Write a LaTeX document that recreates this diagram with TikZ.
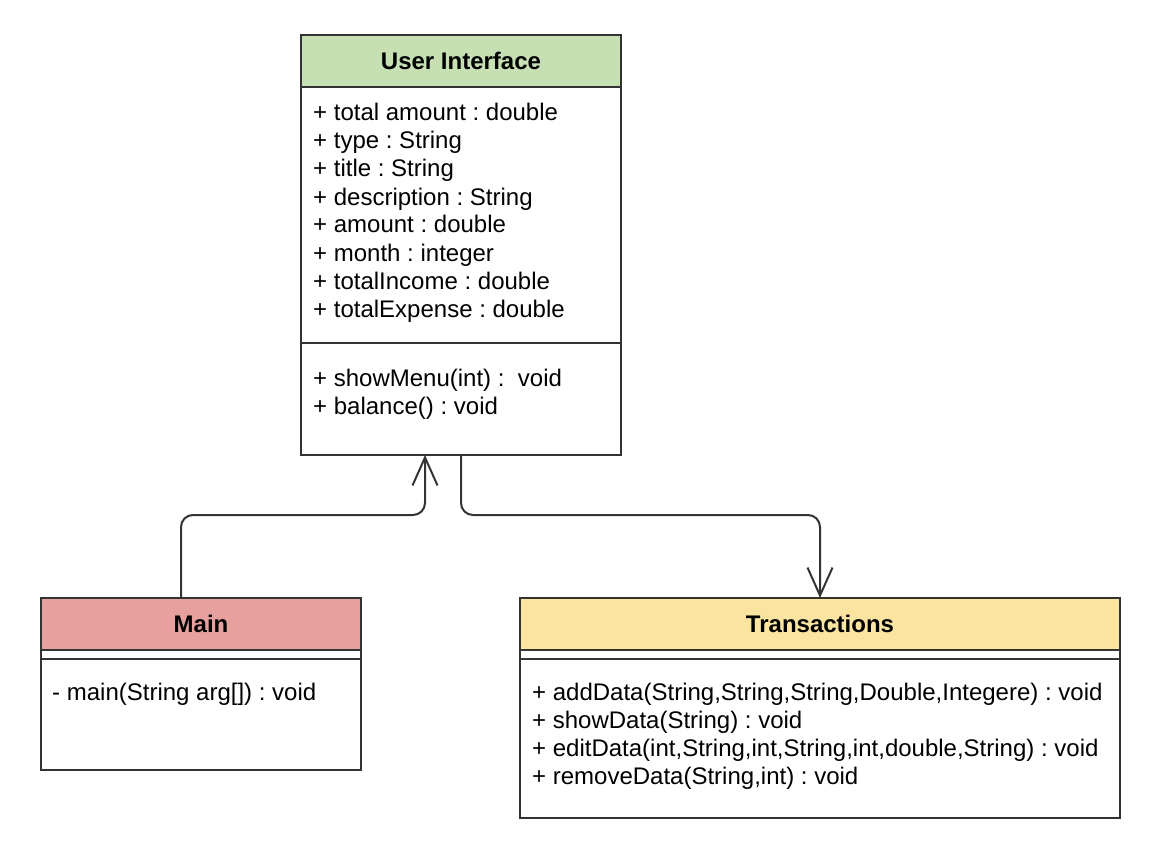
\documentclass[tikz,border=0pt]{standalone}
\usepackage{fontspec}
\setmainfont{Liberation Sans}
\usetikzlibrary{arrows.meta,calc}
\definecolor{lc}{HTML}{333333}
\definecolor{hgreen}{HTML}{C6E0B4}
\definecolor{hred}{HTML}{E6A19E}
\definecolor{hyellow}{HTML}{FAE4A0}
\frenchspacing
\begin{document}
\begin{tikzpicture}[x=1pt,y=-1pt,
  box/.style={draw=lc, line width=2pt, fill=white, anchor=north west, inner sep=0pt, outer sep=0pt},
  hdr/.style={box, minimum height=52pt},
  txt/.style={anchor=base west, inner sep=0pt, font=\fontsize{24}{28}\selectfont},
  ttl/.style={inner sep=0pt, font=\fontsize{24}{28}\selectfont\bfseries},
  sep/.style={draw=lc, line width=2pt},
  conn/.style={draw=lc, line width=2pt, rounded corners=12pt, -{Straight Barb[length=28pt,width=25pt]}}
]
\useasboundingbox (0,0) rectangle (1164,861);

% User Interface
\node[box, minimum width=320pt, minimum height=420pt] (ui) at (301,35) {};
\node[hdr, fill=hgreen, minimum width=320pt] (uih) at (301,35) {};
\node[ttl] (uit) at (uih.center) {User Interface};
\draw[sep] (301,343) -- (621,343);
\foreach \t [count=\i] in {{+ total amount : double},{+ type : String},{+ title : String},{+ description : String},{+ amount : double},{+ month : integer},{+ totalIncome : double},{+ totalExpense : double}}
  \node[txt] (uia\i) at (313,{121+28*(\i-1)}) {\t};
\node[txt] (uim1) at (313,386) {+ showMenu(int) :\ \ void};
\node[txt] (uim2) at (313,414) {+ balance() : void};

% Main
\node[box, minimum width=320pt, minimum height=172pt] (main) at (41,598) {};
\node[hdr, fill=hred, minimum width=320pt] (mainh) at (41,598) {};
\node[ttl] (maint) at (mainh.center) {Main};
\draw[sep] (41,659) -- (361,659);
\node[txt] (mainm1) at (52,700) {- main(String arg[]) : void};

% Transactions
\node[box, minimum width=600pt, minimum height=220pt] (tr) at (520,598) {};
\node[hdr, fill=hyellow, minimum width=600pt] (trh) at (520,598) {};
\node[ttl] (trt) at (trh.center) {Transactions};
\draw[sep] (520,659) -- (1120,659);
\foreach \t [count=\i] in {{+ addData(String,String,String,Double,Integere) : void},{+ showData(String) : void},{+ editData(int,String,int,String,int,double,String) : void},{+ removeData(String,int) : void}}
  \node[txt] (trm\i) at (532,{700+28*(\i-1)}) {\t};

% connectors
\draw[conn] ([xshift=-20pt]mainh.north) |- ($(ui.south)+(-36,60)$) -- ([xshift=-36pt]ui.south);
\draw[conn] (ui.south) -- ++(0,60) -| (trh.north);
\end{tikzpicture}
\end{document}
